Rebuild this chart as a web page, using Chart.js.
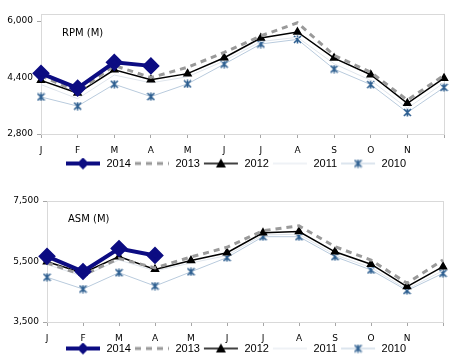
<!DOCTYPE html>
<html><head><meta charset="utf-8">
<script src="https://cdn.jsdelivr.net/npm/chart.js"></script>
<style>
html,body{margin:0;padding:0;background:#fff;}
.box{position:relative;width:468px;height:182px;}
</style></head><body>
<div class="box"><canvas id="rpmChart"></canvas></div>
<div class="box"><canvas id="asmChart"></canvas></div>
<script>
const months = ['J','F','M','A','M','J','J','A','S','O','N',''];
const years = ['2014','2013','2012','2011','2010'];

// RPM (M)
const rpm2014 = [4520,4100,4830,4730];
const rpm2013 = [4450,3990,4740,4400,4690,5110,5580,5950,5030,4550,3760,4460];
const rpm2012 = [4320,3960,4620,4340,4510,4960,5520,5690,4950,4480,3670,4380];
const rpm2011 = [4200,3800,4470,4250,4420,4870,5420,5540,4790,4320,3530,4250];
const rpm2010 = [3850,3590,4210,3860,4220,4780,5350,5480,4640,4200,3410,4120];
const rpmTicks = [2800,4400,6000];

// ASM (M)
const asm2014 = [5670,5170,5930,5700];
const asm2013 = [5450,5050,5600,5290,5650,5970,6520,6680,5990,5550,4780,5550];
const asm2012 = [5490,5120,5660,5240,5530,5790,6450,6490,5820,5410,4670,5330];
const asm2011 = [5400,5010,5550,5190,5450,5700,6380,6400,5720,5300,4580,5200];
const asm2010 = [4980,4590,5130,4690,5160,5630,6320,6320,5660,5220,4540,5110];
const asmTicks = [3500,5500,7500];

const navy = '#0c0c82';

function starMarker(color) {
  const c = document.createElement('canvas');
  c.width = 9; c.height = 9;
  const g = c.getContext('2d');
  g.strokeStyle = color; g.lineWidth = 1.6;
  g.beginPath();
  g.moveTo(1,1); g.lineTo(8,8);
  g.moveTo(8,1); g.lineTo(1,8);
  g.moveTo(4.5,0.5); g.lineTo(4.5,8.5);
  g.stroke();
  return c;
}
const star = starMarker('#2b5d8f');

// legend swatch: line + marker, drawn on a small canvas
function legendIcon(kind) {
  const c = document.createElement('canvas');
  c.width = 39; c.height = 14;
  const g = c.getContext('2d');
  const y = 7, x0 = 4, x1 = 38, mid = 21;
  g.beginPath();
  if (kind === '2014') { g.strokeStyle = navy; g.lineWidth = 4; }
  if (kind === '2013') { g.strokeStyle = '#9a9a9a'; g.lineWidth = 3; g.setLineDash([6,5]); }
  if (kind === '2012') { g.strokeStyle = '#000'; g.lineWidth = 1.5; }
  if (kind === '2011') { g.strokeStyle = '#dfe5ec'; g.lineWidth = 1; }
  if (kind === '2010') { g.strokeStyle = '#b9cbdd'; g.lineWidth = 1; }
  g.moveTo(x0,y); g.lineTo(x1,y); g.stroke();
  g.setLineDash([]);
  if (kind === '2014') {
    g.fillStyle = navy;
    g.beginPath(); g.moveTo(mid-6,y); g.lineTo(mid,y-6); g.lineTo(mid+6,y); g.lineTo(mid,y+6); g.closePath(); g.fill();
  }
  if (kind === '2012') {
    g.fillStyle = '#000';
    g.beginPath(); g.moveTo(mid,y-5); g.lineTo(mid+5,y+4); g.lineTo(mid-5,y+4); g.closePath(); g.fill();
  }
  if (kind === '2010') g.drawImage(star, mid-4.5, y-4.5);
  return c;
}
const icons = years.map(legendIcon);

const framePlugin = {
  id: 'frame',
  beforeDatasetsDraw(chart) {
    const a = chart.chartArea, g = chart.ctx;
    g.save();
    g.strokeStyle = '#d9d9d9'; g.lineWidth = 1;
    g.strokeRect(a.left + 0.5, a.top + 0.5, a.right - a.left, a.bottom - a.top);
    g.restore();
  },
  afterDraw(chart) {
    const a = chart.chartArea, g = chart.ctx, o = chart.options.plugins.frame;
    g.save();
    g.fillStyle = '#000'; g.font = '10px "DejaVu Sans"';
    g.textBaseline = 'middle';
    g.fillText(o.text, a.left + 21, a.top + o.dy);
    g.restore();
  }
};

function makeChart(id, title, s, ticks, min, max, yWidth, rightGap, xHeight, pad, dy) {
  return new Chart(id, {
    type: 'line',
    data: {
      labels: months,
      datasets: [
        { label: '2010', data: s[4], borderColor: '#b9cbdd', borderWidth: 1, pointStyle: star, pointRadius: 4, order: 5 },
        { label: '2011', data: s[3], borderColor: '#dfe5ec', borderWidth: 1, pointRadius: 0, order: 4 },
        { label: '2012', data: s[2], borderColor: '#000', backgroundColor: '#000', borderWidth: 1.5, pointStyle: 'triangle', pointRadius: 4, order: 3 },
        { label: '2013', data: s[1], borderColor: '#9a9a9a', borderWidth: 3, borderDash: [6,5], pointRadius: 0, order: 2 },
        { label: '2014', data: s[0], borderColor: navy, backgroundColor: navy, borderWidth: 4, pointStyle: 'rectRot', pointRadius: 6, order: 1 }
      ]
    },
    plugins: [framePlugin],
    options: {
      responsive: true, maintainAspectRatio: false, animation: false,
      layout: { padding: pad },
      elements: { line: { tension: 0 } },
      scales: {
        x: {
          grid: { display: true, drawOnChartArea: false, drawTicks: true, tickLength: 4, color: '#a6a6a6' },
          border: { color: '#a6a6a6' },
          ticks: { color: '#000', font: { family: 'DejaVu Sans', size: 9, lineHeight: 1 }, padding: 8, maxRotation: 0, autoSkip: false },
          afterFit(sc) { sc.height = xHeight; }
        },
        y: {
          min: min, max: max,
          grid: { display: true, drawOnChartArea: false, drawTicks: true, tickLength: 4, color: '#a6a6a6' },
          border: { color: '#a6a6a6' },
          ticks: { color: '#000', font: { family: 'DejaVu Sans', size: 9 }, padding: 4,
                   callback: v => v.toLocaleString('en-US') },
          afterBuildTicks(sc) { sc.ticks = ticks.map(v => ({ value: v })); },
          afterFit(sc) { sc.width = yWidth; }
        },
        // empty right axis, only to keep the gap right of the plot
        y2: {
          type: 'linear', position: 'right',
          grid: { display: false }, border: { display: false }, ticks: { display: false },
          afterFit(sc) { sc.width = rightGap; }
        }
      },
      plugins: {
        frame: { text: title, dy: dy },
        tooltip: { enabled: false },
        legend: {
          position: 'bottom',
          labels: {
            usePointStyle: true, pointStyleWidth: 39, padding: 0,
            color: '#000', font: { family: 'Liberation Sans', size: 11 },
            generateLabels: () => years.map((y, i) => ({ text: y, pointStyle: icons[i], fillStyle: 'transparent', strokeStyle: 'transparent', lineWidth: 0, datasetIndex: 4 - i }))
          }
        }
      }
    }
  });
}

makeChart('rpmChart', 'RPM (M)', [rpm2014, rpm2013, rpm2012, rpm2011, rpm2010], rpmTicks, 2800, 6200, 41, 24, 24, { top: 14, right: 0, bottom: 3, left: 0 }, 19);
makeChart('asmChart', 'ASM (M)', [asm2014, asm2013, asm2012, asm2011, asm2010], asmTicks, 3500, 7500, 47, 25, 21, { top: 19, right: 0, bottom: 0, left: 0 }, 18);
</script>
</body></html>
